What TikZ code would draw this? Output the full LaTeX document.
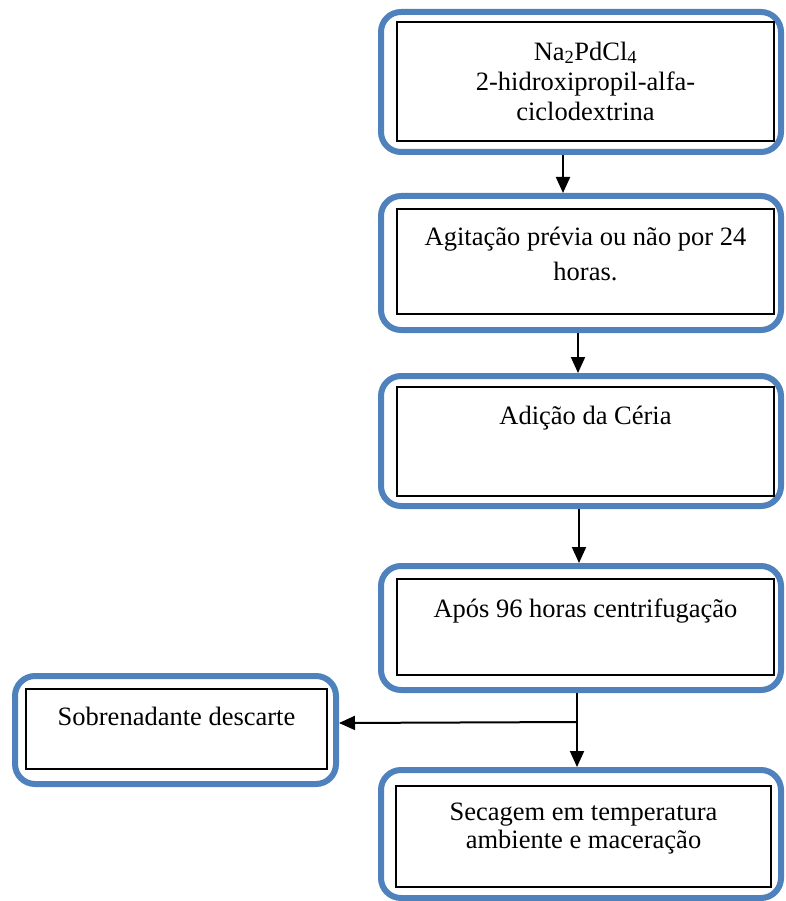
\documentclass[tikz,border=0pt]{standalone}
\usepackage{fontspec}
\setmainfont{Liberation Serif}
\usetikzlibrary{arrows.meta}
\definecolor{boxblue}{RGB}{79,129,189}
\tikzset{
  outerbox/.style={draw=boxblue, line width=6pt, rounded corners=20pt, rectangle, inner sep=0pt},
  innerbox/.style={draw=black, line width=1.5pt, rectangle, inner sep=0pt},
  txt/.style={anchor=north, inner sep=0pt, align=center},
  arr/.style={-{Triangle[length=16pt,width=14pt]}, line width=2pt, black}
}
\begin{document}
\begin{tikzpicture}[x=1pt,y=-1pt]
\useasboundingbox (0,0) rectangle (786,901);
% outer boxes
\node[outerbox, minimum width=400pt, minimum height=140pt] (b1) at (581,82) {};
\node[outerbox, minimum width=400pt, minimum height=134pt] (b2) at (581,263) {};
\node[outerbox, minimum width=400pt, minimum height=130pt] (b3) at (581,441) {};
\node[outerbox, minimum width=400pt, minimum height=124pt] (b4) at (581,628) {};
\node[outerbox, minimum width=400pt, minimum height=128pt] (b5) at (581,834) {};
\node[outerbox, minimum width=321pt, minimum height=108pt] (sob) at (175.5,730) {};
% inner boxes
\node[innerbox, minimum width=377pt, minimum height=119pt] (i1) at (585.5,81.5) {};
\node[innerbox, minimum width=377pt, minimum height=105pt] (i2) at (585.5,261.5) {};
\node[innerbox, minimum width=377pt, minimum height=109pt] (i3) at (585.5,441.5) {};
\node[innerbox, minimum width=377pt, minimum height=96pt] (i4) at (585.5,627) {};
\node[innerbox, minimum width=375pt, minimum height=101pt] (i5) at (583.5,836.5) {};
\node[innerbox, minimum width=301pt, minimum height=80pt] (isob) at (176.5,729) {};
% texts
\node[txt, font=\fontsize{26.5}{30}\selectfont] (t1) at (585.5,41.5) {Na\textsubscript{2}PdCl\textsubscript{4}\\2-hidroxipropil-alfa-\\ciclodextrina};
\node[txt, font=\fontsize{26.5}{35}\selectfont] (t2) at (585.5,226.5) {Agitação prévia ou não por 24\\horas.};
\node[txt, font=\fontsize{26.5}{30}\selectfont] (t3) at (585.5,405.5) {Adição da Céria};
\node[txt, font=\fontsize{26.5}{30}\selectfont] (t4) at (585.5,598.5) {Após 96 horas centrifugação};
\node[txt, font=\fontsize{26.5}{30}\selectfont] (t5) at (176.5,706.5) {Sobrenadante descarte};
\node[txt, font=\fontsize{26.5}{28.5}\selectfont] (t6) at (583.5,802.5) {Secagem em temperatura\\ambiente e maceração};
% arrows
\coordinate (x1) at (563,0);
\coordinate (x2) at (578,0);
\coordinate (x3) at (579,0);
\coordinate (x4) at (577,0);
\coordinate (j) at (577,722);
\coordinate (k) at (0,723);
\draw[arr] (b1.south -| x1) -- (b2.north -| x1);
\draw[arr] (b2.south -| x2) -- (b3.north -| x2);
\draw[arr] (b3.south -| x3) -- (b4.north -| x3);
\draw[arr] (b4.south -| x4) -- (b5.north -| x4);
\draw[arr] (j) -- (sob.east |- k);
\end{tikzpicture}
\end{document}
